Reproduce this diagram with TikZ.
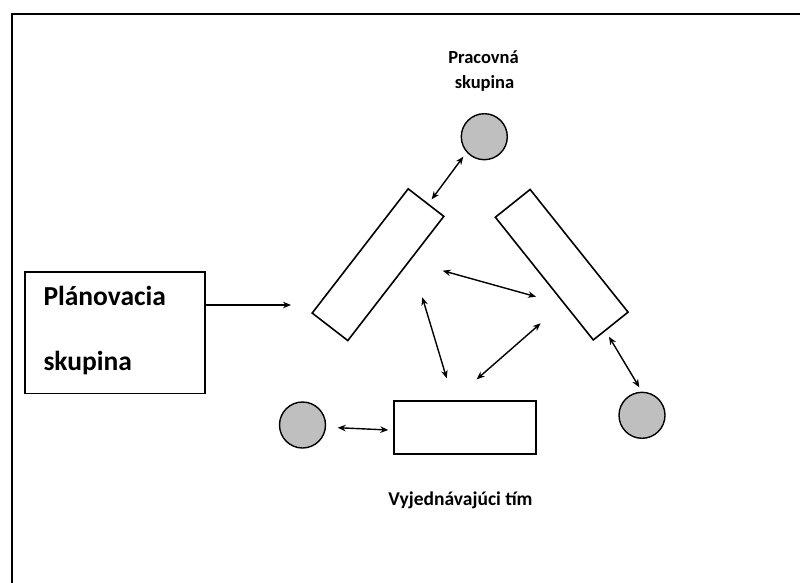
\documentclass[tikz,border=0pt]{standalone}
\usepackage{fontspec}
\setmainfont{Carlito}
\usetikzlibrary{arrows.meta}
\begin{document}
\begin{tikzpicture}[x=1pt,y=-1pt,
  box/.style={draw,line width=1.6pt,fill=white,inner sep=0pt,outer sep=0pt},
  member/.style={draw,line width=1.4pt,fill=black!25,circle,minimum size=46pt,inner sep=0pt},
  link/.style={line width=1.4pt,{Stealth[length=8pt,width=6.5pt]}-{Stealth[length=8pt,width=6.5pt]}},
  feed/.style={line width=1.4pt,-{Stealth[length=8pt,width=6.5pt]}},
  lbl/.style={inner sep=0pt,font=\bfseries}]
\useasboundingbox (0,0) rectangle (800,583);
% frame
\draw[line width=1.8pt] (12,583) -- (12,14) -- (800,14);
% nodes
\node[box,minimum width=180pt,minimum height=121.6pt] (plan) at (115,332.5) {};
\node[lbl,anchor=base west,font=\bfseries\fontsize{27.5}{31}\selectfont] (plant1) at (43.3,305.7) {Plánovacia};
\node[lbl,anchor=base west,font=\bfseries\fontsize{27.5}{31}\selectfont] (plant2) at (43.3,370) {skupina};
\node[box,minimum width=157pt,minimum height=45pt,rotate=52.3] (lrect) at (378,264.7) {};
\node[box,minimum width=157pt,minimum height=44.5pt,rotate=-51.4] (rrect) at (561.7,264.7) {};
\node[box,minimum width=142pt,minimum height=53pt] (brect) at (465,427.7) {};
\node[member] (ctop) at (484.3,136.7) {};
\node[member] (cleft) at (302.5,425) {};
\node[member] (cright) at (642,415.3) {};
\node[lbl,anchor=base,font=\bfseries\fontsize{18.5}{22}\selectfont] (pt1) at (483.5,63.3) {Pracovná};
\node[lbl,anchor=base,font=\bfseries\fontsize{18.5}{22}\selectfont] (pt2) at (484.5,89) {skupina};
\node[lbl,anchor=base,font=\bfseries\fontsize{19.5}{23}\selectfont] (vt) at (460.5,505) {Vyjednávajúci tím};
% connector ends
\coordinate (a1s) at (431.7,199.3); \coordinate (a1e) at (463.3,156.7);
\coordinate (a2s) at (442.7,270.7); \coordinate (a2e) at (536,296.7);
\coordinate (a3s) at (422.3,297.3); \coordinate (a3e) at (446.7,378.3);
\coordinate (a4s) at (540.7,323.3); \coordinate (a4e) at (476.7,379.3);
\coordinate (a5s) at (609,336.7);   \coordinate (a5e) at (639.3,387.3);
\coordinate (a6s) at (337.7,427.7); \coordinate (a6e) at (388.3,430);
\coordinate (pa) at (291,305);
% connectors
\draw[feed] (plan.east |- pa) -- (pa);
\draw[link] (a1s) -- (a1e);
\draw[link] (a2s) -- (a2e);
\draw[link] (a3s) -- (a3e);
\draw[link] (a4s) -- (a4e);
\draw[link] (a5s) -- (a5e);
\draw[link] (a6s) -- (a6e);
\end{tikzpicture}
\end{document}
